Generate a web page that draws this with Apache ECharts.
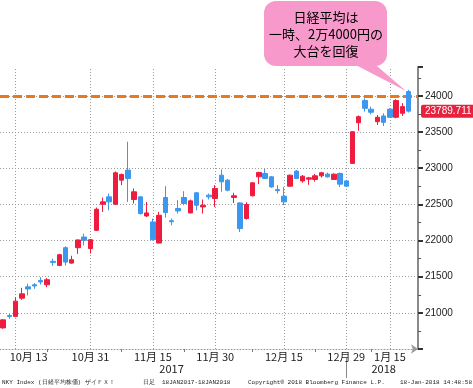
<!DOCTYPE html>
<html><head><meta charset="utf-8">
<script src="https://cdn.jsdelivr.net/npm/echarts@6/dist/echarts.min.js"></script>
<style>html,body{margin:0;padding:0;background:#fff}#c{width:473px;height:388px}</style>
</head><body><div id="c"></div>
<script>
const dates = ['2017/10/11','2017/10/12','2017/10/13','2017/10/16','2017/10/17','2017/10/18','2017/10/19','2017/10/20','2017/10/23','2017/10/24','2017/10/25','2017/10/26','2017/10/27','2017/10/30','2017/10/31',
'2017/11/01','2017/11/02','2017/11/06','2017/11/07','2017/11/08','2017/11/09','2017/11/10','2017/11/13','2017/11/14','2017/11/15','2017/11/16','2017/11/17','2017/11/20','2017/11/21','2017/11/22','2017/11/24','2017/11/27','2017/11/28','2017/11/29','2017/11/30',
'2017/12/01','2017/12/04','2017/12/05','2017/12/06','2017/12/07','2017/12/08','2017/12/11','2017/12/12','2017/12/13','2017/12/14','2017/12/15','2017/12/18','2017/12/19','2017/12/20','2017/12/21','2017/12/22','2017/12/25','2017/12/26','2017/12/27','2017/12/28','2017/12/29',
'2018/01/04','2018/01/05','2018/01/09','2018/01/10','2018/01/11','2018/01/12','2018/01/15','2018/01/16','2018/01/17','2018/01/18'];
const opens = [20792,20962,20951,21203,21360,21388,21448,21388,21712,21656,21901,21688,21901,22048,21888,
22141,22502,22604,22502,22835,22974,22567,22604,22340,22257,21965,22595,22275,22443,22595,22382,22660,22465,22627,22581,
22904,22835,22595,22520,22304,22619,22881,22928,22881,22705,22613,22752,22960,22825,22849,22845,22895,22918,22845,22928,22825,
23067,23630,23935,23816,23644,23723,23816,23705,23760,24060];
const closes = [20903,20950,21162,21263,21330,21372,21428,21458,21698,21804,21702,21735,22008,22003,22012,
22433,22535,22535,22937,22914,22859,22674,22373,22382,22012,22349,22387,22260,22410,22512,22549,22488,22488,22604,22720,
22812,22696,22619,22165,22498,22798,22942,22859,22742,22690,22535,22904,22859,22890,22867,22895,22937,22881,22918,22780,22752,
23505,23713,23829,23774,23705,23635,23705,23935,23852,23789.711];
const lows = [20780,20917,20940,21180,21240,21333,21392,21356,21650,21645,21655,21680,21815,21933,21820,
22130,22395,22419,22495,22766,22534,22512,22360,22326,22000,21960,22318,22211,22373,22488,22375,22419,22373,22567,22465,
22674,22680,22520,22118,22290,22610,22780,22850,22730,22650,22490,22745,22850,22800,22770,22815,22872,22870,22838,22740,22745,
23060,23519,23782,23746,23598,23584,23700,23691,23723,23770];
const highs = [20912,20986,21217,21346,21402,21411,21494,21481,21750,21815,21920,21790,22015,22096,22020,
22456,22595,22650,22956,22925,23366,22720,22612,22534,22304,22396,22752,22304,22558,22682,22567,22670,22567,22650,22766,
22983,22850,22660,22530,22530,22810,22950,22988,22890,22765,22740,22912,22975,22905,22880,22920,22950,22940,22930,22940,22840,
23510,23730,23968,23852,23736,23760,23830,23954,23899,24084];
const yGridValues = [21000,21500,22000,22500,23000,23500,24000];
const monthLabelDates = ['2017/10/13','2017/10/31','2017/11/15','2017/11/30','2017/12/15','2017/12/29','2018/01/15'];
const monthLabelTexts = ['10月 13','10月 31','11月 15','11月 30','12月 15','12月 29','1月 15'];
const halfTickDates = ['2017/10/20','2017/11/08','2017/11/22','2017/12/08','2017/12/22','2018/01/10'];
const yearLabelDates = ['2017/11/20','2018/01/12'];
const yearLabelTexts = ['2017','2018'];
const yearBreakDate = '2017/12/29';
const resistanceLevel = 24000;
const lastPrice = 23789.711;

const cats = dates.concat(['']);
const candles = dates.map((d,i)=>[opens[i], closes[i], lows[i], highs[i]]);
const gridStyle = {color:'#9a9a9a', type:[1,2], width:1};
const RED = '#EE1D3F', BLUE = '#3B97EF';
const FOOT = {fontSize:6, fontFamily:'Liberation Mono', fill:'#222', verticalAlign:'middle'};

const chart = echarts.init(document.getElementById('c'), null, {renderer:'canvas'});
chart.setOption({
  animation:false,
  grid:{left:0, right:55, top:67, bottom:39, containLabel:false, outerBoundsMode:'none'},
  xAxis:[{
    type:'category', data:cats, boundaryGap:true,
    axisLine:{show:true, lineStyle:{color:'#999', type:[1,2]}, symbol:['none','arrow'], symbolSize:[7,7]},
    axisTick:{show:true, alignWithLabel:true, length:3, interval:(i,v)=>halfTickDates.includes(v), lineStyle:{color:'#777'}},
    axisLabel:{interval:(i,v)=>monthLabelDates.includes(v),
      formatter:v=>{const k=monthLabelDates.indexOf(v); if(k<0) return ''; return k===0?'{first|'+monthLabelTexts[k]+'}':monthLabelTexts[k];},
      rich:{first:{padding:[0,0,0,26], fontSize:11, color:'#222', fontFamily:'Noto Sans CJK JP'}},
      fontSize:11, color:'#222', margin:2, fontFamily:'Noto Sans CJK JP'},
    splitLine:{show:false}
  },{
    type:'category', data:cats, position:'bottom', offset:9, gridIndex:0,
    axisLine:{show:false},
    axisTick:{show:true, alignWithLabel:true, length:20, interval:(i,v)=>v===yearBreakDate, lineStyle:{color:'#888'}},
    axisLabel:{interval:(i,v)=>yearLabelDates.includes(v), formatter:v=>{const k=yearLabelDates.indexOf(v);return k>=0?yearLabelTexts[k]:'';},
      fontSize:11, color:'#222', margin:5, fontFamily:'Noto Sans CJK JP'},
    splitLine:{show:false}
  }],
  yAxis:{
    type:'value', position:'right', min:20500, max:24400, interval:500,
    axisLine:{show:true, lineStyle:{color:'#8a8a8a', width:2}},
    axisTick:{show:true, length:5, lineStyle:{color:'#333', width:2}},
    minorTick:{show:true, splitNumber:2, length:3, lineStyle:{color:'#555'}},
    axisLabel:{formatter:v=>(v>=21000 && v<=24000 && v%500===0)?String(v):'', fontSize:10, color:'#222', margin:7, fontFamily:'Liberation Sans'},
    splitLine:{show:false}, minorSplitLine:{show:false}
  },
  series:[
    {type:'line', data:[], z:1, silent:true,
     markLine:{silent:true, symbol:'none', z:1, animation:false, label:{show:false}, lineStyle:gridStyle,
       data:[...yGridValues.map(v=>({yAxis:v})), ...monthLabelDates.map(d=>({xAxis:dates.indexOf(d)}))]}},
    {type:'line', data:[], z:2, silent:true,
     markLine:{silent:true, symbol:'none', z:2, animation:false, label:{show:false},
       lineStyle:{color:'#E8791F', width:3, type:[9,4]},
       data:[{yAxis:resistanceLevel}]}},
    {type:'candlestick', z:4, barWidth:5, data:candles,
     itemStyle:{color:RED, color0:BLUE, borderColor:RED, borderColor0:BLUE, borderWidth:1}},
    {type:'line', data:[], z:6, silent:true,
     markLine:{silent:true, symbol:'none', z:6, animation:false,
       lineStyle:{color:'rgba(0,0,0,0)', width:0},
       label:{show:true, position:'end', distance:3, formatter:()=>String(lastPrice), color:'#fff', fontSize:10,
         fontFamily:'Liberation Sans', backgroundColor:'#E8213F', padding:[2,4,1,4], borderRadius:2},
       data:[{yAxis:lastPrice}]}}
  ],
  graphic:[
    {type:'rect', z:20, shape:{x:264,y:1,width:123,height:65,r:12}, style:{fill:'#F799CB'}},
    {type:'polygon', z:20, shape:{points:[[346,60],[370,60],[406,91]]}, style:{fill:'#F799CB'}},
    {type:'text', z:21, x:326, y:17, style:{text:'日経平均は', fontSize:13, fontFamily:'Noto Sans CJK JP', fill:'#000', align:'center', verticalAlign:'middle'}},
    {type:'text', z:21, x:326, y:34, style:{text:'一時、2万4000円の', fontSize:13, fontFamily:'Noto Sans CJK JP', fill:'#000', align:'center', verticalAlign:'middle'}},
    {type:'text', z:21, x:326, y:51, style:{text:'大台を回復', fontSize:13, fontFamily:'Noto Sans CJK JP', fill:'#000', align:'center', verticalAlign:'middle'}},
    {type:'text', z:21, x:2, y:382, style:Object.assign({text:'NKY Index (日経平均株価) ザイＦＸ！', align:'left'}, FOOT)},
    {type:'text', z:21, x:143, y:382, style:Object.assign({text:'日足', align:'left'}, FOOT)},
    {type:'text', z:21, x:162, y:382, style:Object.assign({text:'18JAN2017-18JAN2018', align:'left'}, FOOT)},
    {type:'text', z:21, x:248, y:382, style:Object.assign({text:'Copyright® 2018 Bloomberg Finance L.P.', align:'left'}, FOOT)},
    {type:'text', z:21, x:472, y:382, style:Object.assign({text:'18-Jan-2018 14:48:58', align:'right'}, FOOT)}
  ]
});
</script></body></html>
